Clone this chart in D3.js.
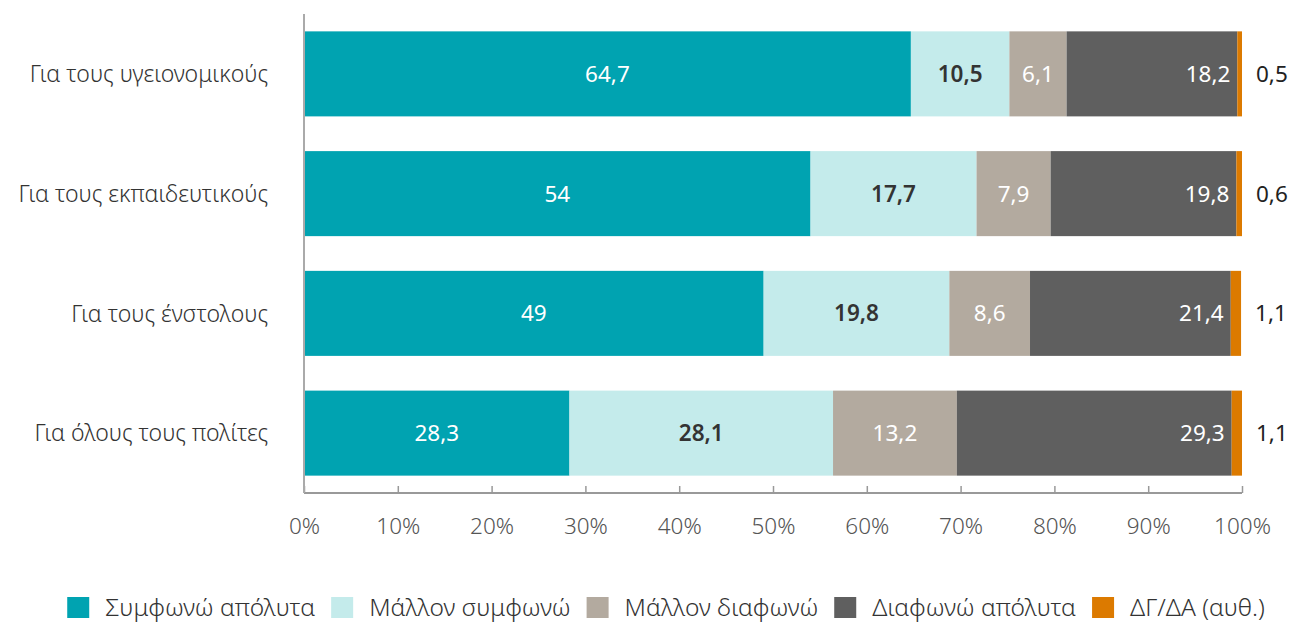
<!DOCTYPE html>
<html><head><meta charset="utf-8">
<script src="https://cdn.jsdelivr.net/npm/d3@7"></script>
<style>body{margin:0;background:#fff;} svg{display:block;font-family:"Noto Sans",sans-serif;}</style>
</head><body>
<svg id="c" width="1291" height="622"></svg>
<script>
const categories = ["Για τους υγειονομικούς","Για τους εκπαιδευτικούς","Για τους ένστολους","Για όλους τους πολίτες"];
const seriesNames = ["Συμφωνώ απόλυτα","Μάλλον συμφωνώ","Μάλλον διαφωνώ","Διαφωνώ απόλυτα","ΔΓ/ΔΑ (αυθ.)"];
const agreeFully   = [64.7, 54, 49, 28.3];
const ratherAgree  = [10.5, 17.7, 19.8, 28.1];
const ratherDisagree = [6.1, 7.9, 8.6, 13.2];
const disagreeFully  = [18.2, 19.8, 21.4, 29.3];
const dkNa           = [0.5, 0.6, 1.1, 1.1];
const tickValues = [0,10,20,30,40,50,60,70,80,90,100];
const colors = ["#00A3B1","#C4EBEB","#B3AA9F","#5F5F5F","#DC7A00"];
const labelColors = ["#fff","#333","#fff","#fff","#222"];
const labelWeights = [400,600,400,400,400];

const seriesValues = [agreeFully, ratherAgree, ratherDisagree, disagreeFully, dkNa];
const rows = categories.map((c,i)=>{const o={cat:c}; seriesNames.forEach((s,j)=>o[s]=seriesValues[j][i]); return o;});
const stack = d3.stack().keys(seriesNames)(rows);

const svg = d3.select("#c");
const x = d3.scaleLinear().domain([0,100]).range([304,1242]);
const y = d3.scaleBand().domain(categories).range([14,493]).paddingInner(0.29).paddingOuter(0.145);

// bars
stack.forEach((layer,j)=>{
  const g = svg.append("g");
  g.selectAll("rect").data(layer).join("rect")
    .attr("x",d=>x(d[0])).attr("y",d=>y(d.data.cat))
    .attr("width",d=>x(d[1])-x(d[0])).attr("height",y.bandwidth())
    .attr("fill",colors[j]);
  g.selectAll("text").data(layer).join("text")
    .attr("x",d=> j===4 ? x(d[1])+14 : (j===3 ? x(d[1])-7 : (x(d[0])+x(d[1]))/2))
    .attr("y",d=>y(d.data.cat)+y.bandwidth()/2)
    .attr("dy","0.36em")
    .attr("text-anchor", j===4 ? "start" : (j===3 ? "end" : "middle"))
    .attr("fill",labelColors[j]).attr("font-weight",labelWeights[j])
    .attr("font-size",22.5)
    .text(d=>String(d.data[seriesNames[j]]).replace(".",","));
});

// x axis
const xAxis = d3.axisBottom(x).tickValues(tickValues).tickSize(-7).tickPadding(0).tickFormat(d=>d+"%");
const ax = svg.append("g").attr("transform","translate(0,493)").call(xAxis);
ax.select(".domain").attr("stroke","#777").attr("stroke-width",1.5).attr("d","M304,0H1242");
ax.selectAll(".tick line").attr("stroke","#999").attr("stroke-width",1.5);
ax.selectAll(".tick text").attr("y",33).attr("dy","0.36em").attr("font-size",22.5).attr("fill","#555").attr("font-family","Noto Sans, sans-serif").attr("font-weight",300);

// y axis line
svg.append("line").attr("x1",304).attr("x2",304).attr("y1",14).attr("y2",493).attr("stroke","#aaa").attr("stroke-width",2);

// category labels
svg.append("g").selectAll("text").data(categories).join("text")
  .attr("x",268).attr("y",d=>y(d)+y.bandwidth()/2).attr("dy","0.36em")
  .attr("text-anchor","end").attr("font-size",23).attr("font-weight",300).attr("fill","#333").text(d=>d);

// legend
const lg = svg.append("g");
let cx = 0;
seriesNames.forEach((s,j)=>{
  const it = lg.append("g");
  it.append("rect").attr("x",0).attr("y",-10.5).attr("width",22).attr("height",21).attr("fill",colors[j]);
  const t = it.append("text").attr("x",38).attr("dy","0.36em").attr("font-size",24.5).attr("font-weight",300).attr("fill","#333").text(s);
  const w = 38 + t.node().getComputedTextLength();
  it.attr("transform",`translate(${cx},0)`);
  cx += w + 16;
});
const totalW = cx - 16;
lg.attr("transform",`translate(${(65+1267)/2 - totalW/2},607.5)`);
</script>
</body></html>
